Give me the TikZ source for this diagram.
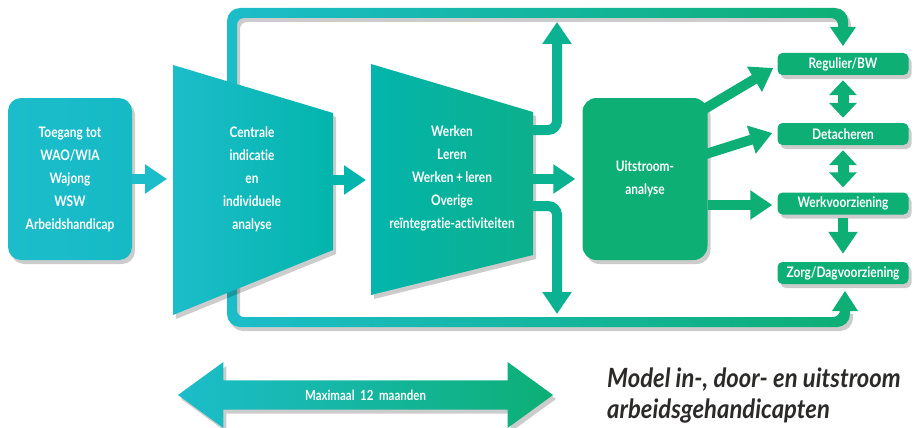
\documentclass[tikz,border=0pt]{standalone}
\usepackage{fontspec}
\setmainfont{Lato}
\newfontfamily\boxfont{Lato}[FakeStretch=0.82, Ligatures=NoCommon]
\newfontfamily\capfont{Lato}[FakeStretch=0.9]
\usetikzlibrary{arrows.meta,shapes.arrows,shadows}

\definecolor{cyanA}{HTML}{1CBDCA}
\definecolor{cyanB}{HTML}{15BAC5}
\definecolor{tealA}{HTML}{03B5AC}
\definecolor{tealB}{HTML}{0CB08B}
\definecolor{greenA}{HTML}{0DAF75}
\definecolor{greenB}{HTML}{0BB291}
\definecolor{capgray}{HTML}{2B2A29}

\begin{document}
\begin{tikzpicture}[x=1pt,y=-1pt,
    boxtext/.style={text=white, align=center, font=\boxfont\bfseries\fontsize{14.5}{23}\selectfont},
    softshadow/.style={drop shadow={shadow xshift=3pt, shadow yshift=-4pt, fill=black, opacity=0.2}},
    inbox/.style={boxtext, rounded corners=13pt, minimum width=124pt, minimum height=162pt, left color=cyanA, right color=cyanB, softshadow},
    uitbox/.style={boxtext, rounded corners=14pt, minimum width=125pt, minimum height=162pt, fill=greenA, softshadow},
    outbox/.style={boxtext, rounded corners=5pt, minimum width=131pt, minimum height=22pt, inner sep=0pt, fill=greenA, softshadow},
    flow/.style={line width=10pt, -{Triangle[length=22pt,width=28pt]}},
    dflow/.style={line width=11pt, {Triangle[length=15pt,width=27pt]}-{Triangle[length=15pt,width=27pt]}}
]
\useasboundingbox (0,0) rectangle (918,428);

% loops round the funnels
\shade[left color=cyanA, right color=greenA, softshadow]
  (227,100) [rounded corners=13pt] -- (227,8) -- (848,8) [sharp corners] -- (848,30)
  -- (838,30) [rounded corners=7pt] -- (838,18) -- (237,18) [sharp corners] -- (237,100) -- cycle;
\fill[greenA] (830,27) -- (856,27) -- (843,46) -- cycle;
\shade[left color=cyanA, right color=greenA, softshadow]
  (227,280) [rounded corners=13pt] -- (227,327) -- (850,327) [sharp corners] -- (850,310)
  -- (840,310) [rounded corners=7pt] -- (840,317) -- (237,317) [sharp corners] -- (237,280) -- cycle;
\fill[greenA] (832,311) -- (858,311) -- (845,291) -- cycle;

% instroom
\node[inbox] (toegang) at (70,179) {Toegang tot\\WAO/WIA\\Wajong\\WSW\\Arbeidshandicap};

% funnels
\coordinate (cia-nw) at (173,65);
\coordinate (cia-ne) at (333,113);
\coordinate (cia-se) at (333,250);
\coordinate (cia-sw) at (173,315);
\shade[left color=cyanA, right color=tealA, softshadow] (cia-nw) -- (cia-ne) -- (cia-se) -- (cia-sw) -- cycle;
\node[boxtext] (indicatie) at (252,179) {Centrale\\indicatie\\en\\individuele\\analyse};

\coordinate (act-nw) at (371,64);
\coordinate (act-ne) at (533,112);
\coordinate (act-se) at (533,255);
\coordinate (act-sw) at (371,295);
\shade[left color=tealA, right color=tealB, softshadow] (act-nw) -- (act-ne) -- (act-se) -- (act-sw) -- cycle;
\node[boxtext] (activiteiten) at (452,178) {Werken\\Leren\\Werken\,+\,leren\\Overige\\reïntegratie-activiteiten};

% uitstroom
\node[uitbox] (uit) at (645,179) {Uitstroom-\\analyse};
\node[outbox] (reg) at (843,64) {Regulier/BW};
\node[outbox] (det) at (843,134) {Detacheren};
\node[outbox] (werk) at (843,203.5) {Werkvoorziening};
\node[outbox] (zorg) at (843,273) {Zorg/Dagvoorziening};

% connectors
\coordinate (cia-e) at (333,180);
\coordinate (act-w) at (371,180);
\coordinate (act-e1) at (533,130);
\coordinate (act-e2) at (533,179);
\coordinate (act-e3) at (533,206);
\coordinate (up-end) at (557,22);
\coordinate (down-end) at (557,314);

\draw[flow, cyanA, shorten >=6pt] (toegang.east) -- (toegang.east -| cia-nw);
\draw[flow, tealA, shorten >=5pt] (cia-e) -- (act-w);
\draw[flow, greenB, rounded corners=9pt] (act-e1) -| (up-end);
\draw[flow, greenB, rounded corners=9pt] (act-e3) -| (down-end);
\draw[flow, greenB, shorten >=7pt] (act-e2) -- (act-e2 -| uit.west);

\draw[flow, greenA] ([xshift=-5pt,yshift=69pt]uit.east) -- ([xshift=-4pt,yshift=-4pt]reg.west);
\draw[flow, greenA] ([xshift=-5pt,yshift=24pt]uit.east) -- ([xshift=-5pt,yshift=1pt]det.west);
\draw[flow, greenA] ([yshift=-26pt]uit.east) -- ([xshift=-5pt,yshift=-1.5pt]werk.west);

\draw[dflow, greenA] ([yshift=-5pt]reg.south) -- ([yshift=5pt]det.north);
\draw[dflow, greenA] ([yshift=-5pt]det.south) -- ([yshift=5pt]werk.north);
\draw[flow, greenA] ([yshift=-3pt]werk.south) -- ([yshift=8pt]zorg.north);

% duur
\node[double arrow, left color=cyanA, right color=greenA, softshadow,
      minimum height=375pt, minimum width=66pt, double arrow head extend=18pt,
      double arrow tip angle=72, inner ysep=9pt, text=white,
      font=\boxfont\bfseries\fontsize{14}{15}\selectfont] (maanden) at (365.5,395) {Maximaal\ \ 12\ \ maanden};

% titel
\node[anchor=north west, align=left, inner sep=0pt, text=capgray,
      font=\capfont\bfseries\itshape\fontsize{26.5}{31}\selectfont] (titel) at (607,368)
  {Model in-, door- en uitstroom\\arbeidsgehandicapten};
\end{tikzpicture}
\end{document}
